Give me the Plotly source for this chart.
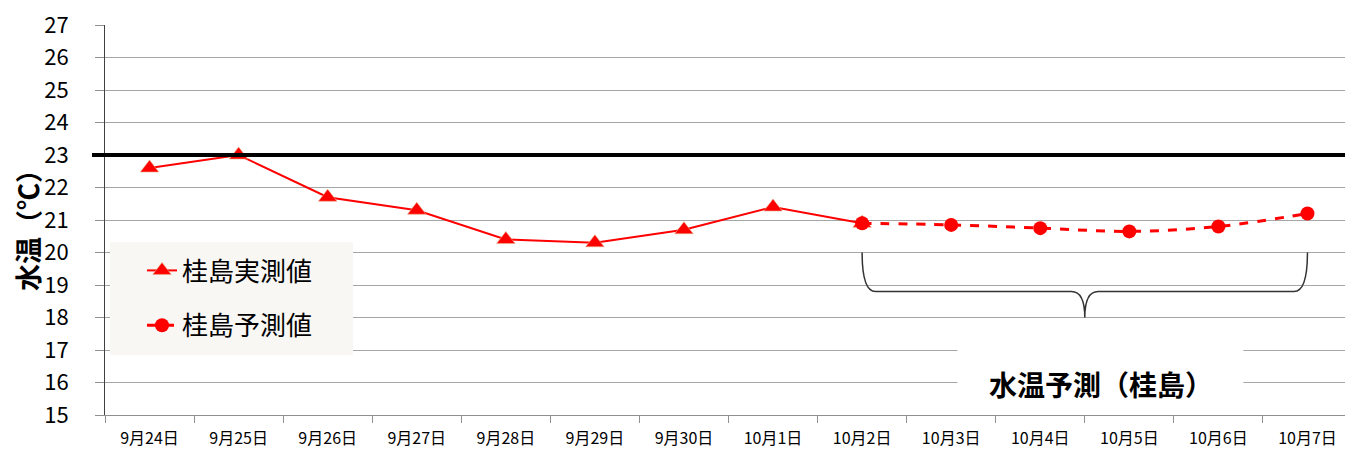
import plotly.graph_objects as go

categories = ["9月24日", "9月25日", "9月26日", "9月27日", "9月28日", "9月29日", "9月30日",
              "10月1日", "10月2日", "10月3日", "10月4日", "10月5日", "10月6日", "10月7日"]
actual_values = [22.6, 23.0, 21.7, 21.3, 20.4, 20.3, 20.7, 21.4, 20.9]
forecast_start = 8
forecast_values = [20.9, 20.85, 20.75, 20.65, 20.8, 21.2]
threshold = 23
y_ticks = list(range(15, 28))

FONT = "Noto Sans CJK JP"
xi = list(range(len(categories)))
x_actual = xi[:len(actual_values)]
x_fore = xi[forecast_start:forecast_start + len(forecast_values)]

# page body has an 8px default margin, so the figure is sized to fit the window
W, H = 1345, 443
ML, MR, MT, MB = 97, 1, 17, 36
PW, PH = W - ML - MR, H - MT - MB


def px(xfig):
    return (xfig - ML) / PW


def py(yfig):
    return (H - MB - yfig) / PH


fig = go.Figure()
fig.add_trace(go.Scatter(
    x=x_actual, y=actual_values, mode="lines+markers", name="桂島実測値",
    line=dict(color="#ff0000", width=2),
    marker=dict(symbol="triangle-up", size=16, color="#ff0000",
                line=dict(color="#e8b08a", width=0.6)),
    legendgroup="a"))
fig.add_trace(go.Scatter(
    x=x_fore, y=forecast_values, mode="lines+markers", name="桂島予測値",
    line=dict(color="#ff0000", width=3, dash="dash", shape="spline"),
    marker=dict(symbol="circle", size=14, color="#ff0000"),
    legendgroup="b"))

# threshold line
fig.add_shape(type="line", xref="paper", yref="y", x0=px(84), x1=1, y0=threshold, y1=threshold,
              line=dict(color="black", width=4), layer="above")

# legend background box
fig.add_shape(type="rect", xref="paper", yref="paper", x0=px(102), x1=px(345), y0=py(347), y1=py(234),
              fillcolor="#f8f7f4", line=dict(width=0), layer="above")

# brace under forecast range
b0, b1 = x_fore[0], x_fore[-1]
bm = (b0 + b1) / 2
top, mid, tip = 20.0, 18.8, 18.0
path = (f"M {b0},{top} Q {b0},{mid} {b0+0.15},{mid} L {bm-0.15},{mid} "
        f"Q {bm},{mid} {bm},{tip} Q {bm},{mid} {bm+0.15},{mid} L {b1-0.15},{mid} "
        f"Q {b1},{mid} {b1},{top}")
fig.add_shape(type="path", path=path, xref="x", yref="y", line=dict(color="#333333", width=1.5))

# white label box
fig.add_shape(type="rect", xref="x", yref="y", x0=9.07, x1=12.28, y0=15.1, y1=17.9,
              fillcolor="white", line=dict(width=0), layer="above")
fig.add_annotation(x=bm + 0.18, y=15.95, xref="x", yref="y", text="<b>水温予測（桂島）</b>",
                   showarrow=False, font=dict(family=FONT, size=28, color="black"))

# y axis title
fig.add_annotation(x=px(19), y=py(216), xref="paper", yref="paper", text="<b>水温（℃）</b>",
                   xanchor="center", yanchor="middle",
                   textangle=-90, showarrow=False, font=dict(family=FONT, size=27, color="black"))

fig.update_layout(
    width=W, height=H,
    margin=dict(l=ML, r=MR, t=MT, b=MB),
    paper_bgcolor="white", plot_bgcolor="white",
    font=dict(family=FONT, color="black"),
    showlegend=True,
    legend=dict(x=px(118), y=py(223), xanchor="left", yanchor="top",
                bgcolor="rgba(0,0,0,0)", bordercolor="rgba(0,0,0,0)", borderwidth=16,
                font=dict(family=FONT, size=26, color="black"),
                tracegroupgap=18, itemwidth=30),
    xaxis=dict(range=[-0.5, len(categories) - 0.5], tickmode="array", tickvals=xi,
               ticktext=categories, ticks="", showgrid=False, zeroline=False,
               showline=True, linecolor="#909090", linewidth=1, automargin=False,
               ticklabelstandoff=9, ticklabeloverflow="allow",
               tickfont=dict(family=FONT, size=16, color="black"),
               minor=dict(tickmode="array", tickvals=[i + 0.5 for i in xi[:-1]] + [-0.5],
                          ticks="outside", ticklen=7, tickcolor="#909090", showgrid=False)),
    yaxis=dict(range=[15, 27], tickmode="array", tickvals=y_ticks, ticks="outside",
               ticklen=9, tickcolor="#909090", showgrid=True, gridcolor="#a6a6a6", gridwidth=1,
               zeroline=False, showline=True, linecolor="#404040", linewidth=1,
               ticklabelstandoff=22, automargin=False, ticklabeloverflow="allow",
               tickfont=dict(family=FONT, size=22, color="black")),
)

fig.write_html("out.html")
